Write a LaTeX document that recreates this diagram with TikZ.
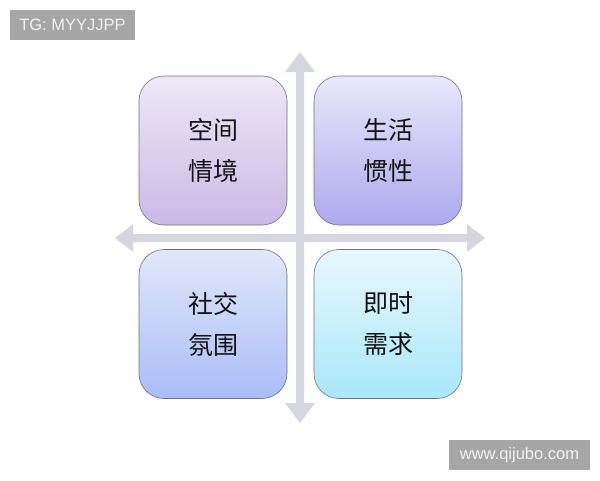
\documentclass[tikz,border=0pt]{standalone}
\usepackage{fontspec}
\setmainfont{Liberation Sans}
\newfontfamily\cjk{Noto Sans CJK SC}
\definecolor{axisgray}{HTML}{D6D6DE}
\definecolor{tagbg}{HTML}{A6A6A6}
\definecolor{boxline}{HTML}{70707A}
\definecolor{tlTop}{HTML}{EEE8F6}
\definecolor{tlBot}{HTML}{CBB9E7}
\definecolor{trTop}{HTML}{E8E8FA}
\definecolor{trBot}{HTML}{AEA9EE}
\definecolor{blTop}{HTML}{E2E8FA}
\definecolor{blBot}{HTML}{A9BDF7}
\definecolor{brTop}{HTML}{E8F8FE}
\definecolor{brBot}{HTML}{A9E7FA}
\tikzset{
  quad/.style={draw=boxline, line width=0.6pt, rounded corners=25pt,
    minimum width=148pt, minimum height=149pt, inner sep=0pt,
    align=center, font=\cjk\fontsize{25}{41}\selectfont, text=black!92},
  tag/.style={fill=tagbg, text=white!95!black, inner sep=0pt,
    font=\fontsize{16.5}{18}\selectfont},
  axis/.style={fill=axisgray, draw=none}
}
\begin{document}
\begin{tikzpicture}[x=1pt,y=-1pt]
\useasboundingbox (0,0) rectangle (600,480);
\fill[white] (0,0) rectangle (600,480);
% axes
\fill[axis] (115,238) -- (133,224) -- (133,234) -- (467,234) -- (467,224)
  -- (485,238) -- (467,252) -- (467,242) -- (133,242) -- (133,252) -- cycle;
\fill[axis] (300,52) -- (315,72) -- (304,72) -- (304,403) -- (315,403)
  -- (300,423) -- (285,403) -- (296,403) -- (296,72) -- (285,72) -- cycle;
% quadrants
\node[quad, top color=tlTop, bottom color=tlBot] (tl) at (213,150.5) {空间\\情境};
\node[quad, top color=trTop, bottom color=trBot] (tr) at (388,150.5) {生活\\惯性};
\node[quad, top color=blTop, bottom color=blBot] (bl) at (213,324) {社交\\氛围};
\node[quad, top color=brTop, bottom color=brBot] (br) at (388,324) {即时\\需求};
% tags
\node[tag, minimum width=125pt, minimum height=30pt] (tg) at (72.5,25) {TG: MYYJJPP};
\node[tag, minimum width=141pt, minimum height=30pt] (web) at (519.5,455) {www.qijubo.com};
\end{tikzpicture}
\end{document}
